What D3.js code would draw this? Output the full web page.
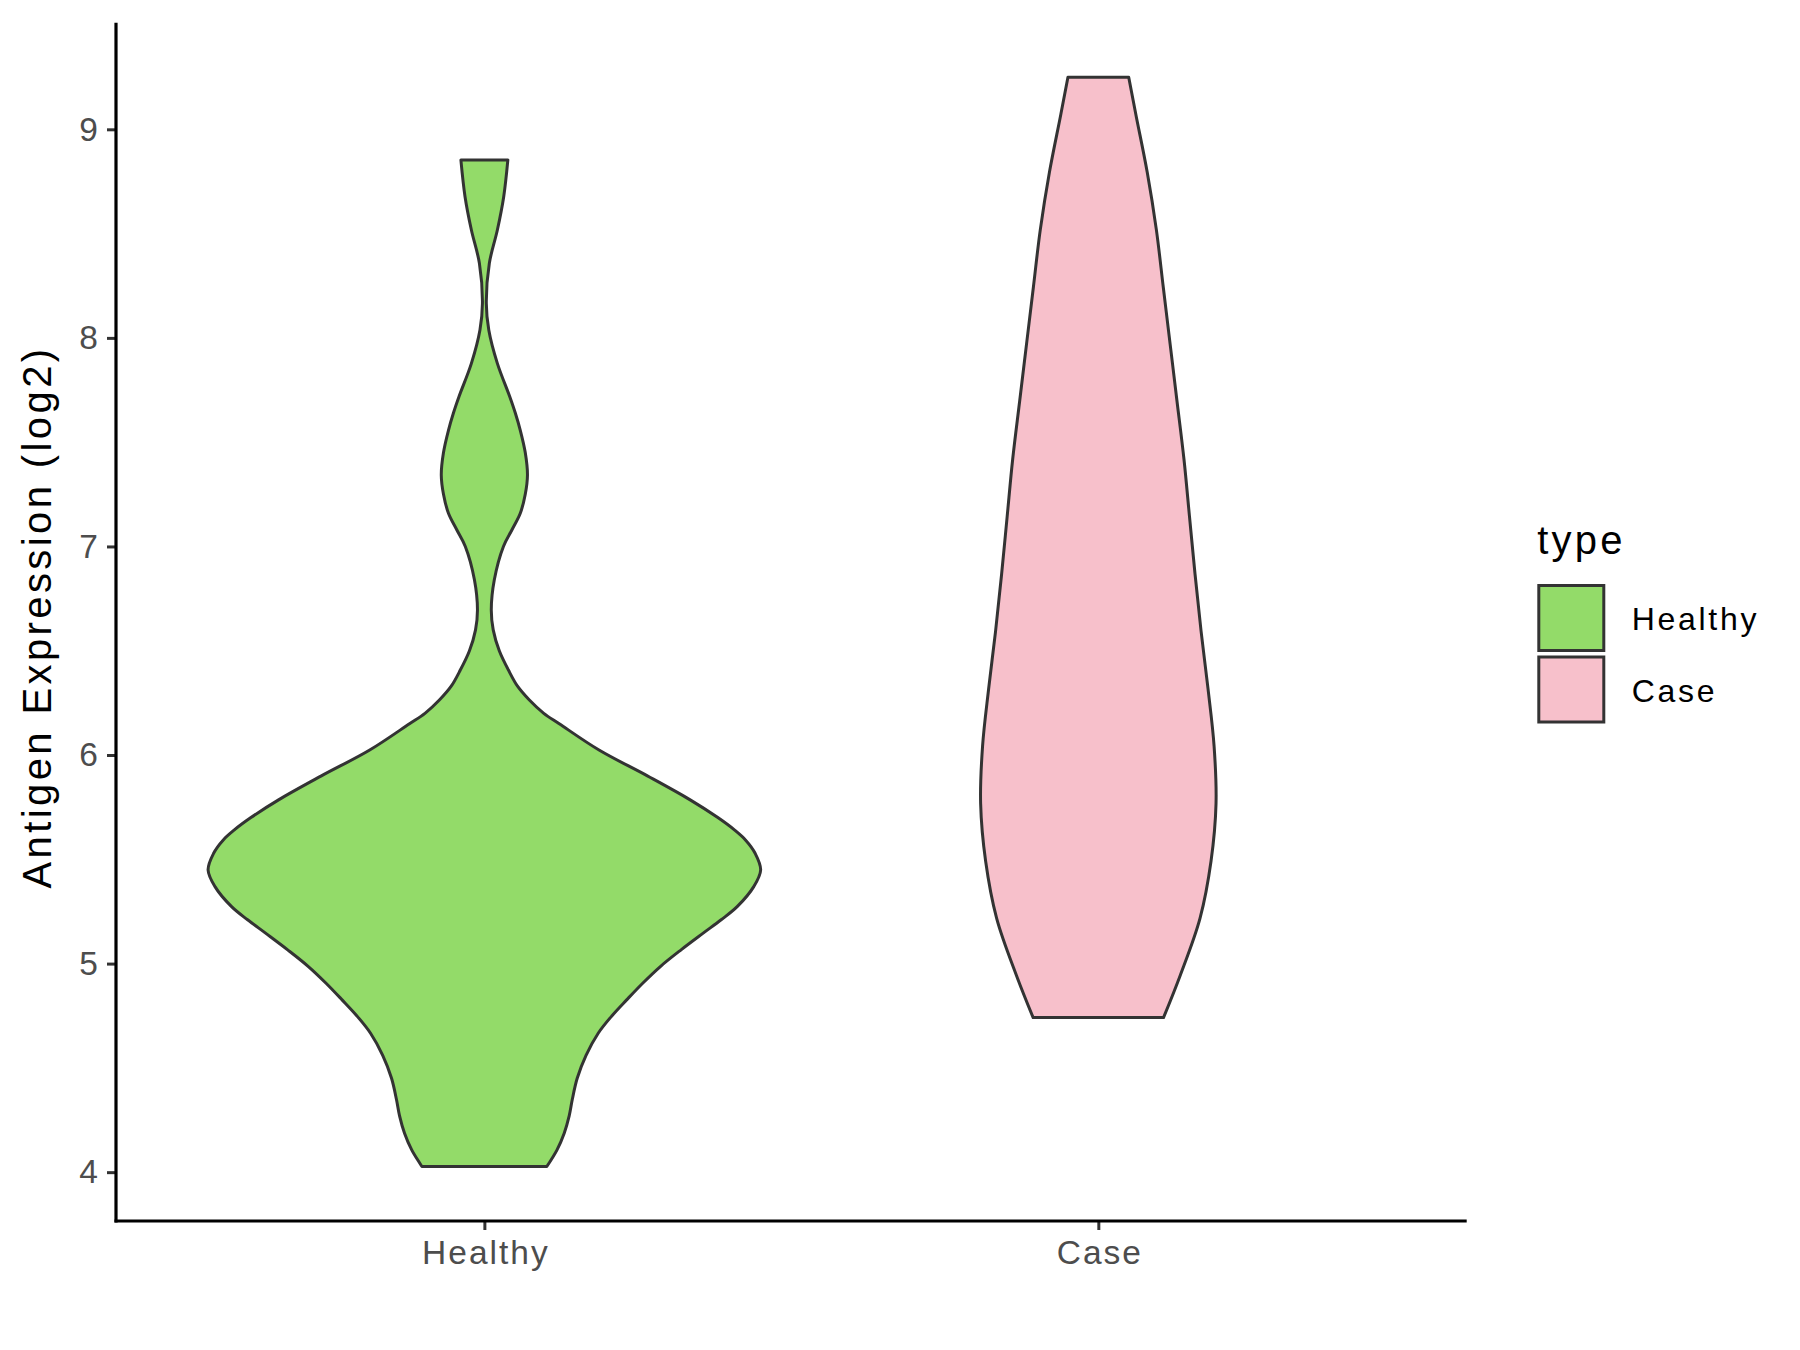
<!DOCTYPE html>
<html>
<head>
<meta charset="utf-8">
<script src="https://cdn.jsdelivr.net/npm/d3@7"></script>
<style>
  html, body { margin: 0; padding: 0; background: #ffffff; }
  svg { display: block; font-family: "Liberation Sans", Arial, sans-serif; }
</style>
</head>
<body>
<svg id="chart" width="1800" height="1350"></svg>
<script>
// ---- data ----
const categories = ["Healthy", "Case"];
const fillColors = ["#93DB69", "#F7C0CB"];
const yTicks = [4, 5, 6, 7, 8, 9];

// Healthy: kernel density profile (value, relative density)
const healthyValues = [4.027, 4.107, 4.187, 4.27, 4.347, 4.45, 4.56, 4.666, 4.75, 4.826, 4.906, 4.986,
  5.066, 5.146, 5.21, 5.273, 5.369, 5.449, 5.529, 5.593, 5.641, 5.70, 5.785, 5.9, 6.024, 6.15,
  6.2, 6.265, 6.33, 6.4, 6.5, 6.6, 6.696, 6.84, 7.0, 7.08, 7.159, 7.25, 7.343, 7.45, 7.557, 7.64,
  7.718, 7.878, 8.038, 8.166, 8.358, 8.517, 8.677, 8.853];
const healthyDensity = [0.226, 0.263, 0.289, 0.307, 0.318, 0.336, 0.368, 0.412, 0.462, 0.515, 0.573, 0.637,
  0.712, 0.792, 0.857, 0.915, 0.975, 1.000, 0.980, 0.945, 0.905, 0.845, 0.745, 0.590, 0.415, 0.271,
  0.215, 0.162, 0.120, 0.090, 0.054, 0.032, 0.025, 0.036, 0.069, 0.100, 0.130, 0.148, 0.156, 0.148, 0.130, 0.112,
  0.092, 0.047, 0.016, 0.007, 0.018, 0.047, 0.070, 0.085];

// Case: kernel density profile (value, relative density)
const caseValues = [4.741, 4.942, 5.217, 5.492, 5.767, 6.043, 6.318, 6.593, 6.868, 7.143, 7.418,
  7.694, 7.969, 8.244, 8.519, 8.794, 9.07, 9.25];
const caseDensity = [0.236, 0.296, 0.368, 0.408, 0.426, 0.419, 0.397, 0.372, 0.350, 0.330, 0.310,
  0.285, 0.260, 0.235, 0.210, 0.177, 0.136, 0.110];

// ---- layout ----
const svg = d3.select("#chart");
const panel = { left: 116, right: 1466.7, top: 22.7, bottom: 1221 };
const ink = "#333333";
const fontFam = "Liberation Sans, Arial, sans-serif";

const allVals = healthyValues.concat(caseValues);
const vMin = d3.min(allVals), vMax = d3.max(allVals);
const pad = (vMax - vMin) * 0.05;

const y = d3.scaleLinear().domain([vMin - pad, vMax + pad]).range([panel.bottom, panel.top]);
const x = d3.scalePoint().domain(categories).range([panel.left, panel.right]).padding(0.6);
const w = d3.scaleLinear().domain([0, 1]).range([0, 0.45 * x.step()]);

const groups = [
  { cat: "Healthy", vals: healthyValues, dens: healthyDensity },
  { cat: "Case", vals: caseValues, dens: caseDensity }
];

// violins
groups.forEach((g, gi) => {
  const pts = g.vals.map((v, i) => ({ v: v, d: g.dens[i] }));
  const cx = x(g.cat);
  const area = d3.area()
    .y(p => y(p.v))
    .x0(p => cx - w(p.d))
    .x1(p => cx + w(p.d))
    .curve(d3.curveCatmullRom.alpha(0.5));
  svg.append("path")
    .datum(pts)
    .attr("d", area)
    .attr("fill", fillColors[gi])
    .attr("stroke", ink)
    .attr("stroke-width", 3)
    .attr("stroke-linejoin", "round");
});

// y axis
const yAxis = d3.axisLeft(y).tickValues(yTicks).tickSize(9).tickPadding(9).tickFormat(d3.format("d"));
const gy = svg.append("g").attr("transform", `translate(${panel.left},0)`).call(yAxis);
gy.select(".domain").remove();
gy.selectAll(".tick line").attr("stroke", ink).attr("stroke-width", 3);
gy.selectAll(".tick text").attr("fill", "#4D4D4D").attr("font-size", 33.5).attr("font-family", fontFam);

// x axis
const xAxis = d3.axisBottom(x).tickSize(9).tickPadding(10);
const gx = svg.append("g").attr("transform", `translate(0,${panel.bottom})`).call(xAxis);
gx.select(".domain").remove();
gx.selectAll(".tick line").attr("stroke", ink).attr("stroke-width", 3);
gx.selectAll(".tick text").attr("fill", "#4D4D4D").attr("font-size", 33.5).attr("font-family", fontFam)
  .attr("letter-spacing", 2).attr("dx", 1);

// axis lines
svg.append("line").attr("x1", panel.left).attr("x2", panel.left)
  .attr("y1", panel.top).attr("y2", panel.bottom + 1.5)
  .attr("stroke", "#000").attr("stroke-width", 3.2);
svg.append("line").attr("x1", panel.left - 1.5).attr("x2", panel.right)
  .attr("y1", panel.bottom).attr("y2", panel.bottom)
  .attr("stroke", "#000").attr("stroke-width", 3.2);

// y title
svg.append("text")
  .attr("transform", `translate(51,617) rotate(-90)`)
  .attr("text-anchor", "middle")
  .attr("font-size", 40)
  .attr("letter-spacing", 3.4)
  .attr("fill", "#000")
  .text("Antigen Expression (log2)");

// legend
const legX = 1537.3, legY = 584, keySize = 68, keyStep = 71.5;
svg.append("text").attr("x", legX).attr("y", 554).attr("font-size", 40)
  .attr("letter-spacing", 3.2).attr("fill", "#000").text("type");
categories.forEach((c, i) => {
  svg.append("rect")
    .attr("x", legX + 1.5).attr("y", legY + i * keyStep + 1.5)
    .attr("width", keySize - 3).attr("height", keySize - 3)
    .attr("fill", fillColors[i]).attr("stroke", ink).attr("stroke-width", 3);
  svg.append("text")
    .attr("x", 1631.7).attr("y", legY + i * keyStep + keySize / 2 + 12)
    .attr("font-size", 32).attr("letter-spacing", 2.7).attr("fill", "#000").text(c);
});
</script>
</body>
</html>
